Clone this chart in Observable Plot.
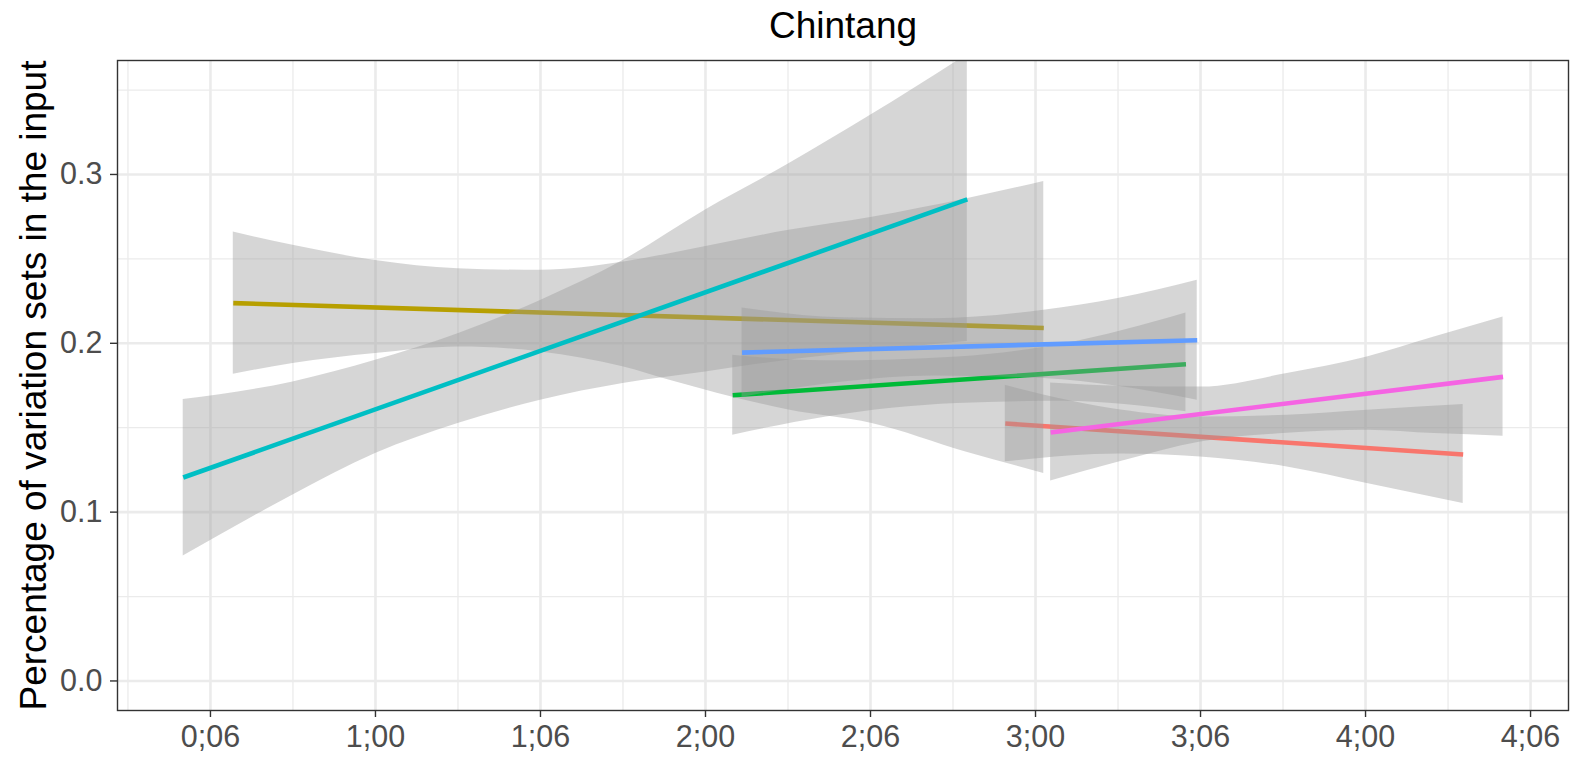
<!DOCTYPE html>
<html>
<head>
<meta charset="utf-8">
<script src="https://cdn.jsdelivr.net/npm/d3@7"></script>
<script src="https://cdn.jsdelivr.net/npm/@observablehq/plot@0.6"></script>
<style>
  html, body { margin: 0; padding: 0; background: #fff; overflow: hidden; }
</style>
</head>
<body>
<div id="chart"></div>
<script>
// Age is in months; values are the share of variation sets in the input.
const tickMonths = [6, 12, 18, 24, 30, 36, 42, 48, 54];
const tickLabels = ["0;06", "1;00", "1;06", "2;00", "2;06", "3;00", "3;06", "4;00", "4;06"];
const minorMonths = [3, 9, 15, 21, 27, 33, 39, 45, 51];
const yTicks = [0, 0.1, 0.2, 0.3];
const yMinor = [0.05, 0.15, 0.25, 0.35];

// One colour per child, in drawing order.
const childColors = ["#F8766D", "#B79F00", "#00BA38", "#00BFC4", "#619CFF", "#F564E3"];

// Linear fits: first and last age, fitted value at each.
const fitAge = [
  [34.9, 51.55],
  [6.83, 36.3],
  [24.99, 41.47],
  [5.01, 33.52],
  [25.33, 41.88],
  [36.55, 53.0]
];
const fitValue = [
  [0.1525, 0.1341],
  [0.2238, 0.2091],
  [0.1692, 0.1876],
  [0.1205, 0.2852],
  [0.1945, 0.2018],
  [0.1472, 0.1801]
];

// Confidence bands of each fit.
const bandAge = [
  [34.9, 39.1, 42, 45.15, 48.06, 51.55],
  [6.83, 9, 12, 15, 18, 21.03, 22.7, 27.03, 30.06, 33.5, 36.3],
  [24.99, 28.4, 33.15, 37, 41.47],
  [5.01, 9, 12, 15, 18, 21, 24, 27, 30, 33.52],
  [25.33, 29, 32.3, 36.3, 39, 41.88],
  [36.55, 39.1, 42, 45.15, 48.06, 50.5, 53.0]
];
const bandLow = [
  [0.1298, 0.1345, 0.1327, 0.1268, 0.1170, 0.1051],
  [0.1817, 0.1880, 0.1939, 0.1978, 0.1949, 0.1860, 0.1781, 0.1605, 0.1525, 0.1355, 0.1229],
  [0.1456, 0.1564, 0.1643, 0.1656, 0.1594],
  [0.0740, 0.1101, 0.1347, 0.1525, 0.1663, 0.1762, 0.1830, 0.1900, 0.1955, 0.2010],
  [0.1681, 0.1771, 0.1806, 0.1791, 0.1745, 0.1663],
  [0.1185, 0.1300, 0.1416, 0.1467, 0.1485, 0.1465, 0.1450]
];
const bandHigh = [
  [0.1751, 0.1605, 0.1564, 0.1574, 0.1604, 0.1637],
  [0.2659, 0.2580, 0.2491, 0.2442, 0.2432, 0.2481, 0.2531, 0.2669, 0.2747, 0.2856, 0.2958],
  [0.1929, 0.1896, 0.1919, 0.1996, 0.2179],
  [0.1667, 0.1771, 0.1899, 0.2057, 0.2254, 0.2490, 0.2790, 0.3060, 0.3350, 0.3710],
  [0.2209, 0.2151, 0.2146, 0.2195, 0.2265, 0.2373],
  [0.1765, 0.1746, 0.1741, 0.1821, 0.1919, 0.2037, 0.2156]
];

const font = "'Liberation Sans', Arial, Helvetica, sans-serif";
const gridColor = "#EBEBEB";

const marks = [
  Plot.gridX(minorMonths, {stroke: gridColor, strokeOpacity: 1, strokeWidth: 1.3}),
  Plot.gridY(yMinor, {stroke: gridColor, strokeOpacity: 1, strokeWidth: 1.3}),
  Plot.gridX(tickMonths, {stroke: gridColor, strokeOpacity: 1, strokeWidth: 2.6}),
  Plot.gridY(yTicks, {stroke: gridColor, strokeOpacity: 1, strokeWidth: 2.6})
];

// Each child: band first, then its fitted line.
childColors.forEach((color, i) => {
  const band = bandAge[i].map((age, j) => ({age, lo: bandLow[i][j], hi: bandHigh[i][j]}));
  const fit = fitAge[i].map((age, j) => ({age, value: fitValue[i][j]}));
  marks.push(Plot.areaY(band, {
    x: "age", y1: "lo", y2: "hi",
    fill: "#999999", fillOpacity: 0.4,
    curve: "monotone-x", clip: true
  }));
  marks.push(Plot.line(fit, {
    x: "age", y: "value",
    stroke: color, strokeWidth: 4.6, strokeLinecap: "butt", clip: true
  }));
});

marks.push(
  Plot.frame({stroke: "#333333", strokeWidth: 1.4}),
  Plot.axisX(tickMonths, {
    tickFormat: d => tickLabels[tickMonths.indexOf(d)],
    tickSize: 7, tickPadding: 8,
    stroke: "#333333", strokeWidth: 1.4,
    fill: "#4D4D4D", fontSize: 30.5, label: null
  }),
  Plot.axisY(yTicks, {
    tickFormat: d3.format(".1f"),
    tickSize: 7, tickPadding: 8,
    stroke: "#333333", strokeWidth: 1.4,
    fill: "#4D4D4D", fontSize: 30.5, label: null
  }),
  Plot.text(["Chintang"], {
    text: d => d, frameAnchor: "top", dy: -23,
    lineAnchor: "bottom", fontSize: 37, fill: "#000"
  }),
  Plot.text(["Percentage of variation sets in the input"], {
    text: d => d, frameAnchor: "left", dx: -72, rotate: -90,
    lineAnchor: "bottom", textAnchor: "middle", fontSize: 37, fill: "#000"
  })
);

const chart = Plot.plot({
  width: 1574,
  height: 757,
  marginLeft: 117,
  marginRight: 6,
  marginTop: 60,
  marginBottom: 47,
  style: {fontFamily: font, background: "#fff"},
  x: {domain: [2.62, 55.38]},
  y: {domain: [-0.0175, 0.3675]},
  marks
});

document.getElementById("chart").append(chart);
</script>
</body>
</html>
